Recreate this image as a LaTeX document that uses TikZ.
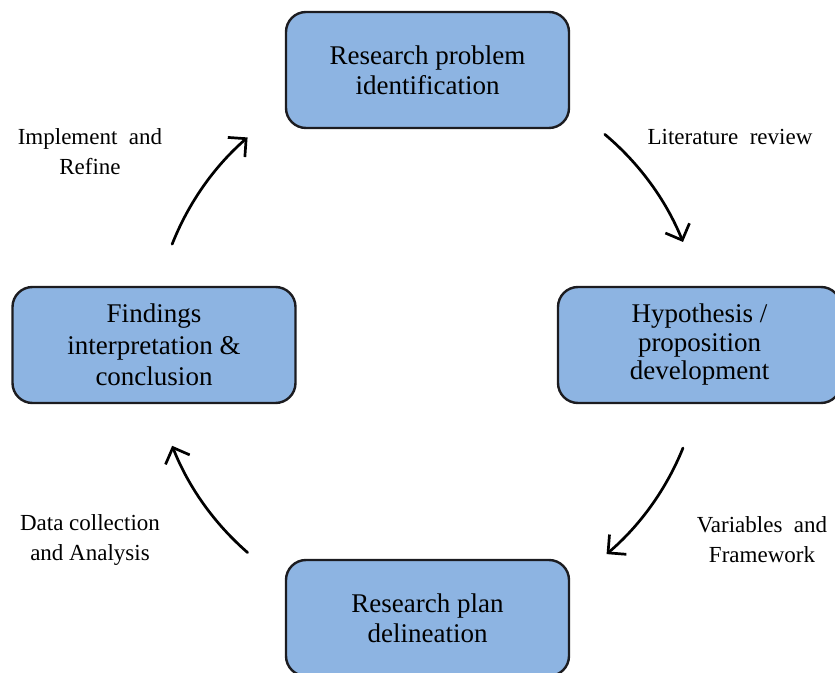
\documentclass[tikz,border=0pt]{standalone}
\usepackage{fontspec}
\setmainfont{Liberation Serif}
\usetikzlibrary{arrows.meta,calc}
\definecolor{stagefill}{HTML}{8DB4E2}
\definecolor{stageline}{HTML}{1C1C20}
\begin{document}
\begin{tikzpicture}[x=1pt,y=1pt,
  stage/.style={draw=stageline, line width=2.4pt, fill=stagefill,
    rounded corners=20pt, minimum width=283pt, minimum height=116pt,
    align=center, inner sep=0pt, font=\fontsize{27}{30}\selectfont},
  tag/.style={align=center, inner sep=0pt, font=\fontsize{23}{30}\selectfont},
  flow/.style={line width=2.7pt, line cap=round,
    -{Straight Barb[length=13pt,width=26pt,line width=2.7pt]}}]
  \useasboundingbox (0,0) rectangle (835,672);
  \clip (0,0) rectangle (835,672);

  % the four stages of the cycle
  \node[stage] (problem) at (427.5,602) {Research problem\\identification};
  \node[stage, font=\fontsize{27}{28.5}\selectfont] (hypo) at (699.5,327)
    {\raisebox{-3pt}{\parbox{240pt}{\centering Hypothesis /\\proposition\\development}}};
  \node[stage] (plan)    at (427.5,54)  {Research plan\\delineation};
  \node[stage, font=\fontsize{27}{31.5}\selectfont] (findings) at (154,327)
    {Findings\\interpretation \&\\conclusion};

  % transition labels
  \node[tag] (lrev)  at (730,535) {Literature\ \ review};
  \node[tag] (vars)  at (762,132) {Variables\ \ and\\Framework};
  \node[tag] (data)  at (90,132)  {Data collection\\and Analysis};
  \node[tag] (impl)  at (90,520)  {Implement\ \ and\\Refine};

  % circular arrows around the cycle
  \coordinate (hub) at (428,327);
  \coordinate (a1) at ($(hub)+(50:275)$);
  \coordinate (a2) at ($(hub)+(-22:275)$);
  \coordinate (a3) at ($(hub)+(229:275)$);
  \coordinate (a4) at ($(hub)+(158.5:275)$);
  \draw[flow] (a1) arc[start angle=50, end angle=22, radius=275];
  \draw[flow] (a2) arc[start angle=-22, end angle=-49.5, radius=275];
  \draw[flow] (a3) arc[start angle=229, end angle=201.5, radius=275];
  \draw[flow] (a4) arc[start angle=158.5, end angle=131, radius=275];
\end{tikzpicture}
\end{document}
